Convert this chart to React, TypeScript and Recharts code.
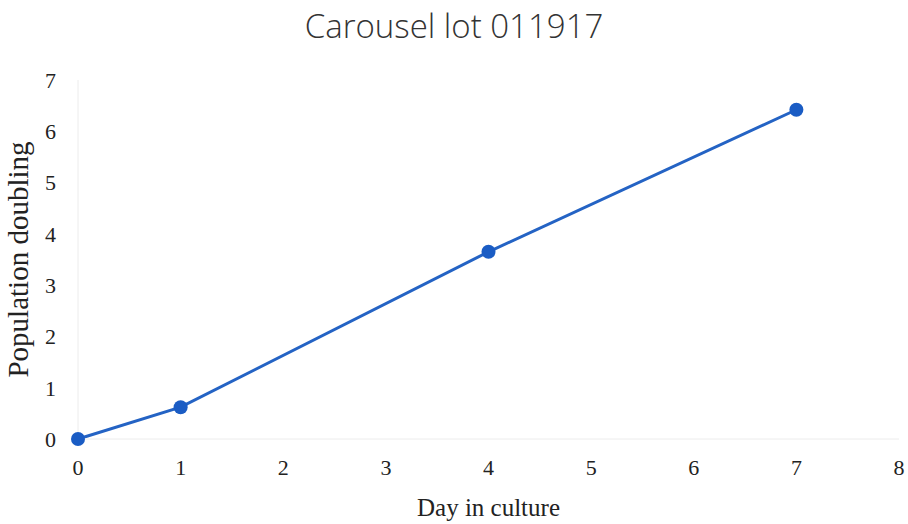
import { LineChart, Line, XAxis, YAxis } from "recharts";

const days = [0, 1, 4, 7];
const doublings = [0, 0.62, 3.65, 6.42];
const xTicks = [0, 1, 2, 3, 4, 5, 6, 7, 8];
const yTicks = [0, 1, 2, 3, 4, 5, 6, 7];

const data = days.map((day, i) => ({ day, pd: doublings[i] }));

const serif = "'Liberation Serif', 'DejaVu Serif', serif";

export default function App() {
  return (
    <div style={{ position: "fixed", top: 0, left: 0, width: 908, height: 524, background: "#fff" }}>
      <div
        style={{
          position: "absolute",
          top: 3,
          left: 0,
          width: 908,
          textAlign: "center",
          fontFamily: "'Open Sans', sans-serif",
          fontWeight: 300,
          fontSize: 33,
          color: "#333",
        }}
      >
        Carousel lot 011917
      </div>
      <LineChart width={908} height={524} data={data} margin={{ top: 80, right: 9, bottom: 0, left: 0 }}>
        <XAxis
          dataKey="day"
          type="number"
          domain={[0, 8]}
          ticks={xTicks}
          interval={0}
          stroke="#ececec"
          tickLine={false}
          tickMargin={14}
          height={85}
          tick={{ fill: "#222", fontFamily: serif, fontSize: 22 }}
          label={{ value: "Day in culture", position: "insideBottom", offset: 8, fill: "#222", fontFamily: serif, fontSize: 25 }}
        />
        <YAxis
          type="number"
          domain={[0, 7]}
          ticks={yTicks}
          interval={0}
          width={78}
          stroke="#ececec"
          tickLine={false}
          tickMargin={16}
          tick={{ fill: "#222", fontFamily: serif, fontSize: 22 }}
          label={{ value: "Population doubling", angle: -90, position: "insideLeft", offset: 18, fill: "#222", fontFamily: serif, fontSize: 29, style: { textAnchor: "middle" } }}
        />
        <Line
          type="linear"
          dataKey="pd"
          stroke="#2463c4"
          strokeWidth={3}
          dot={{ r: 7, fill: "#1a5cc4", stroke: "#1a5cc4", strokeWidth: 0 }}
          isAnimationActive={false}
        />
      </LineChart>
    </div>
  );
}
